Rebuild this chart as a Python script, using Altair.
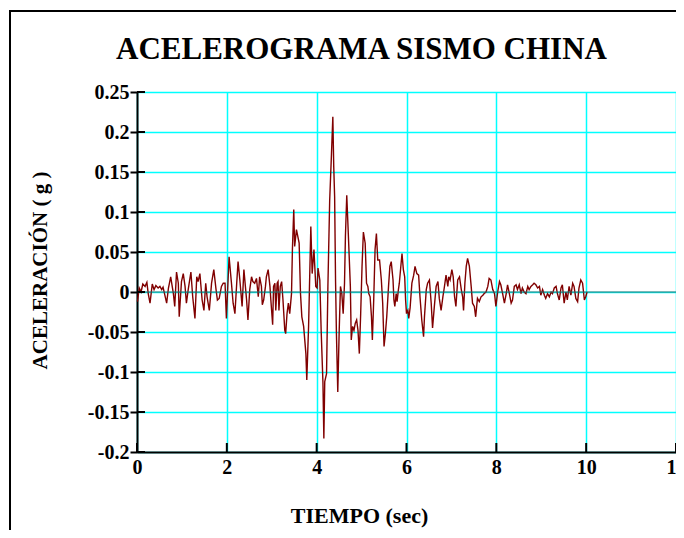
import altair as alt
import pandas as pd

# Accelerogram (time in s, acceleration in g)
time_s = [
    0.01, 0.05, 0.09, 0.13, 0.18, 0.22, 0.25, 0.29, 0.34, 0.38,
    0.42, 0.47, 0.51, 0.55, 0.58, 0.62, 0.66, 0.70, 0.75, 0.81,
    0.84, 0.88, 0.92, 0.94, 0.99, 1.03, 1.07, 1.10, 1.14, 1.20,
    1.24, 1.29, 1.33, 1.36, 1.40, 1.45, 1.49, 1.53, 1.56, 1.61,
    1.66, 1.71, 1.76, 1.79, 1.83, 1.88, 1.92, 1.96, 1.99, 2.05,
    2.10, 2.14, 2.18, 2.22, 2.25, 2.29, 2.34, 2.38, 2.44, 2.47,
    2.51, 2.55, 2.58, 2.62, 2.66, 2.70,
    2.73, 2.77, 2.79, 2.82, 2.86, 2.88, 2.92, 2.96, 2.98, 3.02,
    3.04, 3.07, 3.09, 3.12, 3.14, 3.16, 3.19, 3.22, 3.25, 3.29,
    3.31, 3.34, 3.37, 3.40, 3.44, 3.46, 3.49, 3.51, 3.55, 3.61,
    3.64, 3.67, 3.71, 3.76, 3.78, 3.82, 3.84, 3.87, 3.90, 3.94,
    3.98, 4.01, 4.03, 4.07, 4.10, 4.14, 4.16, 4.18,
    4.22, 4.25, 4.29, 4.33, 4.36, 4.38, 4.40, 4.42, 4.44, 4.47,
    4.50, 4.53, 4.56, 4.59, 4.62, 4.64, 4.67, 4.71, 4.75, 4.77,
    4.80, 4.83, 4.86, 4.89, 4.92, 4.95, 4.98, 5.01, 5.04, 5.08,
    5.11, 5.14, 5.16, 5.19, 5.22, 5.24, 5.27, 5.30, 5.33, 5.36,
    5.40, 5.44, 5.47, 5.50, 5.53, 5.56, 5.60, 5.63, 5.66, 5.70,
    5.72, 5.74, 5.77, 5.79, 5.82,
    5.84, 5.88, 5.90, 5.93, 5.96, 5.98, 6.00, 6.03, 6.05, 6.08,
    6.12, 6.16, 6.19, 6.23, 6.27, 6.30, 6.34, 6.38, 6.40, 6.44,
    6.47, 6.51, 6.55, 6.58, 6.62, 6.66, 6.70, 6.73, 6.77, 6.81,
    6.84, 6.88, 6.92, 6.94, 6.97, 7.01, 7.04, 7.07, 7.10, 7.14,
    7.18, 7.22, 7.25, 7.27, 7.30, 7.33, 7.36, 7.40, 7.44, 7.47,
    7.51, 7.54,
    7.58, 7.62, 7.66, 7.70, 7.73, 7.77, 7.81, 7.84, 7.88, 7.92,
    7.96, 7.99, 8.03, 8.07, 8.10, 8.14, 8.18, 8.22, 8.25, 8.29,
    8.33, 8.36, 8.40, 8.44, 8.47, 8.51, 8.55, 8.58, 8.62, 8.66,
    8.70, 8.73, 8.77, 8.81, 8.84, 8.88, 8.92, 8.96, 8.99, 9.03,
    9.07, 9.10, 9.14, 9.18, 9.22, 9.25, 9.29, 9.33, 9.36, 9.40,
    9.44, 9.47, 9.51, 9.55, 9.58, 9.62, 9.66, 9.70, 9.73, 9.77,
    9.81, 9.84, 9.88, 9.92, 9.96, 9.99, 10.02,
]
accel_g = [
    -0.012, 0.005, 0.000, 0.010, 0.007, 0.012, -0.002, -0.014, 0.010, 0.003,
    0.008, 0.005, 0.007, 0.003, 0.006, -0.004, -0.014, 0.005, 0.019, -0.002,
    -0.018, 0.025, 0.011, -0.031, 0.013, 0.023, 0.007, -0.014, 0.003, 0.025,
    -0.006, -0.033, 0.019, 0.013, 0.023, -0.010, -0.023, 0.011, -0.006, -0.023,
    0.011, 0.028, 0.003, -0.010, -0.008, 0.007, 0.011, 0.011, -0.033, 0.044,
    0.013, -0.014, -0.027, 0.011, 0.038, 0.015, -0.018, 0.028, -0.010, -0.035,
    0.003, 0.019, 0.013, 0.011, 0.017, -0.006,
    0.019, 0.007, -0.016, -0.010, 0.007, 0.019, 0.028, 0.007, -0.010, -0.041,
    0.007, 0.011, -0.023, 0.011, 0.013, -0.023, 0.007, 0.013, -0.010, -0.048,
    -0.052, -0.027, -0.014, -0.027, -0.002, 0.053, 0.103, 0.057, 0.078, 0.061,
    -0.002, -0.031, -0.043, -0.077, -0.110, -0.043, 0.007, 0.082, 0.023, 0.053,
    0.007, 0.005, 0.030, 0.015, -0.048, -0.114, -0.183, -0.112,
    -0.102, 0.007, 0.115, 0.173, 0.219, 0.157, 0.119, 0.015, -0.052, -0.125,
    -0.052, 0.007, -0.002, -0.027, 0.011, 0.069, 0.121, 0.065, 0.007, -0.060,
    -0.043, -0.048, -0.039, -0.035, -0.048, -0.077, -0.027, 0.032, 0.075, 0.061,
    0.011, 0.007, -0.002, -0.006, -0.031, -0.060, -0.010, 0.053, 0.073, 0.040,
    0.040, 0.015, -0.014, -0.068, -0.052, -0.031, 0.007, 0.032, 0.038, 0.015,
    -0.010, -0.018, -0.002, -0.012, 0.003,
    0.011, 0.036, 0.048, 0.028, 0.019, -0.010, -0.027, -0.023, -0.033, -0.020,
    0.011, 0.021, 0.032, 0.023, 0.021, -0.006, -0.035, -0.056, -0.031, 0.003,
    0.011, 0.015, -0.014, -0.045, -0.018, 0.007, 0.013, -0.008, -0.023, -0.006,
    0.005, 0.021, 0.007, 0.019, 0.015, 0.028, 0.019, -0.006, -0.018, 0.015,
    0.019, 0.003, -0.006, -0.023, 0.011, 0.032, 0.042, 0.032, 0.007, -0.014,
    -0.018, -0.031,
    -0.008, -0.012, -0.006, -0.004, -0.002, 0.000, 0.007, 0.017, 0.015, 0.003,
    -0.002, -0.018, 0.000, 0.013, 0.009, -0.002, -0.014, -0.002, 0.009, -0.002,
    -0.014, -0.010, 0.007, 0.009, 0.003, 0.009, -0.002, 0.005, 0.000, -0.002,
    0.007, 0.003, 0.007, 0.009, 0.011, 0.009, 0.005, 0.007, -0.004, 0.003,
    -0.004, -0.008, -0.002, -0.006, 0.000, -0.002, 0.005, 0.007, -0.002, -0.010,
    0.005, 0.009, -0.014, 0.000, -0.010, 0.007, -0.004, 0.011, 0.007, -0.008,
    -0.012, 0.005, 0.015, 0.011, -0.010, -0.006, 0.000,
]
assert len(time_s) == len(accel_g)

x_ticks = [0, 2, 4, 6, 8, 10, 12]
y_ticks = [-0.2, -0.15, -0.1, -0.05, 0, 0.05, 0.1, 0.15, 0.2, 0.25]

W, H = 539, 360
FONT = "Liberation Serif"
GRID = "#00ffff"

df = pd.DataFrame({"t": time_s, "a": accel_g})
xt = pd.DataFrame({"t": x_ticks})
yt = pd.DataFrame({"a": y_ticks})
zero = pd.DataFrame({"a": [0]})
one = pd.DataFrame({"k": [0]})

xscale = alt.Scale(domain=[0, 12], nice=False, zero=False)
yscale = alt.Scale(domain=[-0.2, 0.25], nice=False, zero=False)

xaxis = alt.Axis(
    values=x_ticks, title="TIEMPO (sec)", grid=True, gridColor=GRID,
    gridWidth=1.5, gridOpacity=1, domainColor="black", domainWidth=2,
    ticks=False, labelPadding=5, labelFont=FONT, labelFontSize=20,
    labelFontWeight="bold", labelColor="black", labelFlush=False,
    labelOverlap=False, titleFont=FONT, titleFontSize=22,
    titleFontWeight="bold", titleColor="black", titleX=222, titleY=63,
    titleBaseline="middle",
)
yaxis = alt.Axis(
    values=y_ticks, title="ACELERACIÓN ( g )", grid=True, gridColor=GRID,
    gridWidth=1.5, gridOpacity=1, domainColor="black", domainWidth=2,
    ticks=True, tickColor="black", tickWidth=2, tickSize=7, labelPadding=1,
    labelFont=FONT, labelFontSize=20, labelFontWeight="bold",
    labelColor="black", labelFlush=False, labelOverlap=False,
    labelExpr="'' + datum.value",
    titleFont=FONT, titleFontSize=21, titleFontWeight="bold",
    titleColor="black", titleX=-97, titleY=178, titleBaseline="middle",
    titleAlign="center",
)

X = alt.X("t:Q", scale=xscale, axis=xaxis)
Y = alt.Y("a:Q", scale=yscale, axis=yaxis)

trace = alt.Chart(df).mark_line(color="#800000", strokeWidth=1.4).encode(
    x=X, y=Y, order="t:Q",
)

zero_line = alt.Chart(zero).mark_rule(color="#2f6f6f", strokeWidth=1).encode(
    y=Y,
)

y_in_ticks = alt.Chart(yt).mark_rule(color="black", strokeWidth=2).encode(
    y=Y, x=alt.value(0), x2=alt.value(8),
)
x_in_ticks = alt.Chart(xt).mark_rule(color="black", strokeWidth=2).encode(
    x=X, y=alt.value(H), y2=alt.value(H - 9),
)

frame = alt.Chart(one).mark_rect(
    fillOpacity=0, stroke="black", strokeWidth=2, clip=False
).encode(
    x=alt.value(-127), x2=alt.value(620),
    y=alt.value(-81), y2=alt.value(490),
)

chart = alt.layer(trace, zero_line, y_in_ticks, x_in_ticks, frame).properties(
    width=W, height=H,
    title=alt.TitleParams(
        "ACELEROGRAMA SISMO CHINA", font=FONT, fontSize=31,
        fontWeight="bold", color="black", anchor="middle", frame="group",
        dx=-45, offset=0, dy=80, baseline="alphabetic",
    ),
    autosize=alt.AutoSizeParams(type="none"),
    padding={"left": 129, "top": 84, "right": 0, "bottom": 78},
    background="white",
).configure_view(stroke="transparent")

chart.save("out.html", embed_options={"renderer": "svg", "actions": False})
